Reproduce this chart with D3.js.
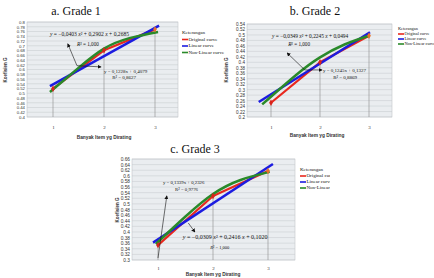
<!DOCTYPE html>
<html>
<head>
<meta charset="utf-8">
<script src="https://cdn.jsdelivr.net/npm/d3@7"></script>
<style>
body{margin:0;background:#fff}
svg{display:block}
</style>
</head>
<body>
<svg id="chart" width="434" height="278"></svg>
<script>
// ---- data ----
var categories = [1, 2, 3];
var legendTitle = "Keterangan";
var legendLabels = ["Original curve", "Linear curve", "Non-Linear curve"];
var xTitle = "Banyak Item yg Dirating";
var yTitle = "Koefisien G";

// grade 1
var g1Original = [0.519, 0.681, 0.769];
var g1LinearX = [0.94, 3.08];
var g1Linear = [0.53, 0.785];
var g1NonLinX = [0.94, 1.5, 2, 2.5, 3.06];
var g1NonLin = [0.505, 0.607, 0.688, 0.732, 0.758];
var g1Ticks = [0.4,0.42,0.44,0.46,0.48,0.5,0.52,0.54,0.56,0.58,0.6,0.62,0.64,0.66,0.68,0.7,0.72,0.74,0.76,0.78,0.8];

// grade 2
var g2Original = [0.252, 0.4, 0.497];
var g2LinearX = [0.75, 3.02];
var g2Linear = [0.255, 0.51];
var g2NonLinX = [0.82, 1.5, 2, 2.5, 3.0];
var g2NonLin = [0.246, 0.352, 0.418, 0.465, 0.497];
var g2Ticks = [0.2,0.22,0.24,0.26,0.28,0.3,0.32,0.34,0.36,0.38,0.4,0.42,0.44,0.46,0.48,0.5,0.52,0.54];

// grade 3
var g3Original = [0.353, 0.528, 0.617];
var g3LinearX = [0.91, 3.09];
var g3Linear = [0.362, 0.642];
var g3NonLinX = [0.96, 1.5, 2, 2.5, 3.03];
var g3NonLin = [0.357, 0.455, 0.535, 0.585, 0.614];
var g3Ticks = [0.3,0.32,0.34,0.36,0.38,0.4,0.42,0.44,0.46,0.48,0.5,0.52,0.54,0.56,0.58,0.6,0.62,0.64,0.66];

var colors = {orig: "#e8281e", lin: "#1c1ce0", non: "#2a8a2a"};

var panels = [
  {title: "a. Grade 1", tx: 76, ty: 15, left: 27, right: 178, top: 22, bottom: 117, x1: 53, x3: 155,
   ticks: g1Ticks, orig: g1Original, linX: g1LinearX, lin: g1Linear, nonX: g1NonLinX, non: g1NonLin,
   tickFont: 4.3, xPad: 8, xt: [104, 138], yt: [6, 70], lg: [182, 33, 6.5, 5], clip: null,
   quad: {u: 0.94, v: 0.745, fs: 5.6, txt: ["−0,0403", "0,2902", "0,2685"]}, r2q: {u: 1.47, v: 0.703, fs: 5.2},
   linE: {u: 2.0, v: 0.589, fs: 5, txt: "y = 0,1228x + 0,4079"}, r2l: {u: 2.16, v: 0.566, fs: 5, txt: "R² = 0,8627"},
   arrows: [[[1.47, 0.616], [1.29, 0.708]], [[1.47, 0.616], [1.94, 0.611]]]},
  {title: "b. Grade 2", tx: 315, ty: 15, left: 247, right: 392, top: 24, bottom: 117, x1: 271, x3: 369,
   ticks: g2Ticks, orig: g2Original, linX: g2LinearX, lin: g2Linear, nonX: g2NonLinX, non: g2NonLin,
   tickFont: 4.6, xPad: 8, xt: [317, 136], yt: [227, 70], lg: [398, 29, 5, 4.3], clip: null,
   quad: {u: 1.02, v: 0.491, fs: 5.4, txt: ["−0,0349", "0,2245", "0,0494"]}, r2q: {u: 1.35, v: 0.463, fs: 5.2},
   linE: {u: 2.06, v: 0.369, fs: 5, txt: "y = 0,1245x + 0,1327"}, r2l: {u: 2.27, v: 0.344, fs: 5, txt: "R² = 0,8869"},
   arrows: [[[1.69, 0.372], [1.33, 0.434]], [[1.69, 0.372], [2.04, 0.372]]]},
  {title: "c. Grade 3", tx: 195, ty: 153, left: 132, right: 295, top: 159, bottom: 260, x1: 158, x3: 268,
   ticks: g3Ticks, orig: g3Original, linX: g3LinearX, lin: g3Linear, nonX: g3NonLinX, non: g3NonLin,
   tickFont: 4.8, xPad: 6, xt: [213, 275], yt: [118, 210], lg: [300, 170, 6, 5], clip: 330,
   quad: {u: 1.45, v: 0.377, fs: 6, txt: ["−0,0309", "0,2416", "0,1020"]}, r2q: {u: 1.95, v: 0.344, fs: 4.5},
   linE: {u: 1.09, v: 0.575, fs: 4.8, txt: "y = 0,1339x + 0,2326"}, r2l: {u: 1.31, v: 0.549, fs: 4.8, txt: "R² = 0,9776"},
   arrows: [[[1.0, 0.307], [1.16, 0.528]], [[1.55, 0.432], [1.67, 0.40]]]}
];

var svg = d3.select("#chart");
var defs = svg.append("defs");
defs.append("marker").attr("id", "arr").attr("viewBox", "0 0 6 6").attr("refX", 5).attr("refY", 3)
  .attr("markerWidth", 4).attr("markerHeight", 4).attr("markerUnits", "userSpaceOnUse").attr("orient", "auto")
  .append("path").attr("d", "M0,0L6,3L0,6z").attr("fill", "#111");

var fmt = function(v){ return String(+v.toFixed(2)); };
var serif = "'Liberation Serif','Times New Roman',serif";
var sans = "'Liberation Sans',Arial,sans-serif";

panels.forEach(function(p, i){
  var g = svg.append("g");
  var x = d3.scaleLinear().domain([1, 3]).range([p.x1, p.x3]);
  var y = d3.scaleLinear().domain([p.ticks[0], p.ticks[p.ticks.length-1]]).range([p.bottom, p.top]);

  g.append("text").attr("x", p.tx).attr("y", p.ty).attr("text-anchor", "middle")
    .attr("font-family", serif).attr("font-size", 12).attr("fill", "#111").text(p.title);

  g.append("rect").attr("x", p.left).attr("y", p.top).attr("width", p.right-p.left).attr("height", p.bottom-p.top)
    .attr("fill", "#eaedf0").attr("stroke", "#b8bcc0").attr("stroke-width", 0.5);

  g.selectAll(".grid").data(p.ticks).enter().append("line")
    .attr("x1", p.left).attr("x2", p.right)
    .attr("y1", function(d){ return y(d); }).attr("y2", function(d){ return y(d); })
    .attr("stroke", "#c4c8cd").attr("stroke-width", 0.5);

  var yAxis = d3.axisLeft(y).tickValues(p.ticks).tickSize(0).tickPadding(2).tickFormat(fmt);
  var ya = g.append("g").attr("transform", "translate(" + p.left + ",0)").call(yAxis);
  ya.select(".domain").remove();
  ya.selectAll("text").attr("font-family", sans).attr("font-size", p.tickFont).attr("fill", "#333");

  var xAxis = d3.axisBottom(x).tickValues(categories).tickSize(0).tickPadding(p.xPad).tickFormat(d3.format("d"));
  var xa = g.append("g").attr("transform", "translate(0," + p.bottom + ")").call(xAxis);
  xa.select(".domain").remove();
  xa.selectAll("text").attr("font-family", serif).attr("font-size", 5).attr("fill", "#333");

  g.append("text").attr("x", p.xt[0]).attr("y", p.xt[1]).attr("text-anchor", "middle").attr("dominant-baseline", "middle")
    .attr("font-family", sans).attr("font-weight", "bold").attr("font-size", 4.8).attr("fill", "#333").text(xTitle);
  g.append("text").attr("transform", "translate(" + p.yt[0] + "," + p.yt[1] + ") rotate(-90)")
    .attr("text-anchor", "middle").attr("dominant-baseline", "middle")
    .attr("font-family", sans).attr("font-weight", "bold").attr("font-size", 4.5).attr("fill", "#333").text(yTitle);

  // drop lines from original points
  g.selectAll(".drop").data(p.orig).enter().append("line")
    .attr("x1", function(d, j){ return x(categories[j]); }).attr("x2", function(d, j){ return x(categories[j]); })
    .attr("y1", function(d){ return y(d); }).attr("y2", p.bottom)
    .attr("stroke", "#8a8a8a").attr("stroke-width", 0.6);

  var line = d3.line().x(function(d){ return x(d[0]); }).y(function(d){ return y(d[1]); });

  g.append("path").datum(p.orig.map(function(v, j){ return [categories[j], v]; }))
    .attr("d", line.curve(d3.curveLinear)).attr("fill", "none").attr("stroke", colors.orig)
    .attr("stroke-width", 2.2).attr("stroke-linejoin", "round");
  g.append("path").datum(p.lin.map(function(v, j){ return [p.linX[j], v]; }))
    .attr("d", line.curve(d3.curveLinear)).attr("fill", "none").attr("stroke", colors.lin).attr("stroke-width", 2.5);
  g.append("path").datum(p.non.map(function(v, j){ return [p.nonX[j], v]; }))
    .attr("d", line.curve(d3.curveNatural)).attr("fill", "none").attr("stroke", colors.non).attr("stroke-width", 2.5);

  g.selectAll(".pt").data(p.orig).enter().append("path")
    .attr("transform", function(d, j){ return "translate(" + x(categories[j]) + "," + y(d) + ")"; })
    .attr("d", d3.symbol().type(d3.symbolDiamond).size(12))
    .attr("fill", function(d, j){ return j === 2 ? "#e8702a" : "#d8241c"; });

  // equations
  var q = g.append("text").attr("x", x(p.quad.u)).attr("y", y(p.quad.v)).attr("dominant-baseline", "middle")
    .attr("font-family", serif).attr("font-size", p.quad.fs).attr("fill", "#111");
  q.append("tspan").attr("font-style", "italic").text("y");
  q.append("tspan").text(" = " + p.quad.txt[0] + " ");
  q.append("tspan").attr("font-style", "italic").text("x");
  q.append("tspan").text("² + " + p.quad.txt[1] + " ");
  q.append("tspan").attr("font-style", "italic").text("x");
  q.append("tspan").text(" + " + p.quad.txt[2]);
  var r = g.append("text").attr("x", x(p.r2q.u)).attr("y", y(p.r2q.v)).attr("dominant-baseline", "middle")
    .attr("font-family", serif).attr("font-size", p.r2q.fs).attr("fill", "#111");
  r.append("tspan").attr("font-style", "italic").text("R");
  r.append("tspan").text("² = 1,000");
  g.append("text").attr("x", x(p.linE.u)).attr("y", y(p.linE.v)).attr("dominant-baseline", "middle")
    .attr("font-family", serif).attr("font-size", p.linE.fs).attr("fill", "#111").text(p.linE.txt);
  g.append("text").attr("x", x(p.r2l.u)).attr("y", y(p.r2l.v)).attr("dominant-baseline", "middle")
    .attr("font-family", serif).attr("font-size", p.r2l.fs).attr("fill", "#111").text(p.r2l.txt);

  p.arrows.forEach(function(a){
    g.append("line").attr("x1", x(a[0][0])).attr("y1", y(a[0][1])).attr("x2", x(a[1][0])).attr("y2", y(a[1][1]))
      .attr("stroke", "#111").attr("stroke-width", 0.6).attr("marker-end", "url(#arr)");
  });

  // legend
  var lg = g.append("g");
  if (p.clip) {
    defs.append("clipPath").attr("id", "clip" + i).append("rect").attr("x", 0).attr("y", 0).attr("width", p.clip).attr("height", 278);
    lg.attr("clip-path", "url(#clip" + i + ")");
  }
  var lx = p.lg[0], ly = p.lg[1], dy = p.lg[2], fs = p.lg[3];
  lg.append("text").attr("x", lx).attr("y", ly).attr("dominant-baseline", "middle")
    .attr("font-family", serif).attr("font-size", fs).attr("fill", "#111").text(legendTitle);
  var cols = [colors.orig, colors.lin, colors.non];
  legendLabels.forEach(function(t, k){
    var yy = ly + dy * (k + 1);
    lg.append("line").attr("x1", lx).attr("x2", lx + 6).attr("y1", yy).attr("y2", yy)
      .attr("stroke", cols[k]).attr("stroke-width", 1.6);
    lg.append("text").attr("x", lx + 6.5).attr("y", yy).attr("dominant-baseline", "middle")
      .attr("font-family", serif).attr("font-size", fs).attr("fill", "#111").text(t);
  });
});
</script>
</body>
</html>
